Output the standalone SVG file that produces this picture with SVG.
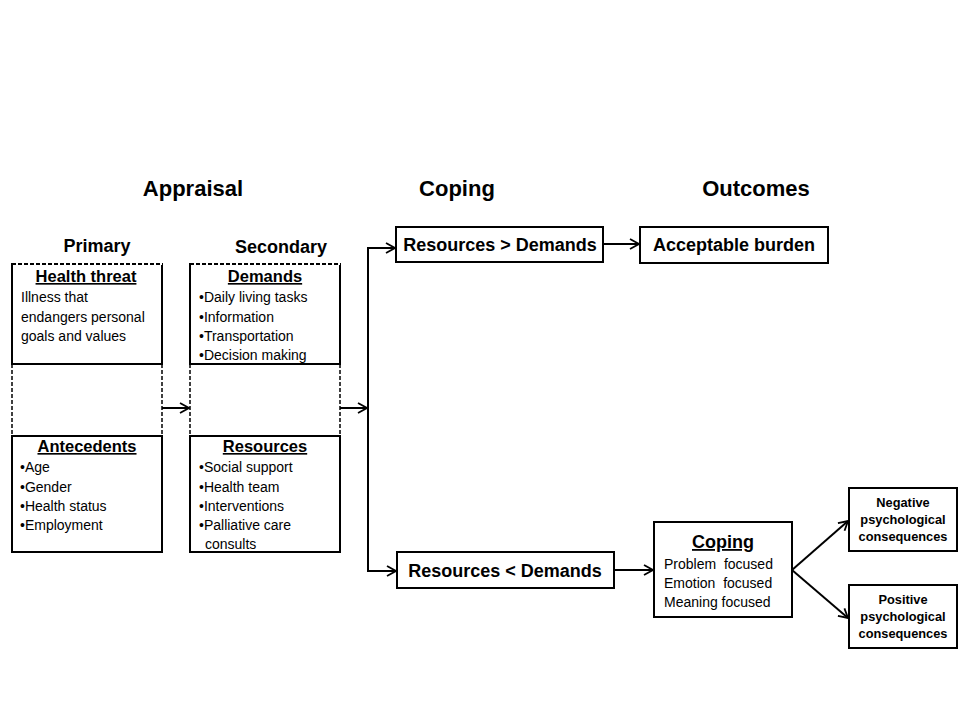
<svg xmlns="http://www.w3.org/2000/svg" width="960" height="720" viewBox="0 0 960 720">
<style>
text{font-family:"Liberation Sans",Arial,sans-serif;fill:#000}
.h1{font-size:22px;font-weight:bold;text-anchor:middle}
.h2{font-size:18px;font-weight:bold;text-anchor:middle}
.hd{font-size:16.5px;font-weight:bold;text-anchor:middle;text-decoration:underline}
.t{font-size:14px}
.sm{font-size:12.8px;font-weight:bold;text-anchor:middle}
.box{fill:#fff;stroke:#000;stroke-width:2}
.dash{fill:none;stroke:#000;stroke-width:1.5;stroke-dasharray:4 2}
.ln{fill:none;stroke:#000;stroke-width:2}
</style>
<defs>
<marker id="arr" viewBox="0 0 12 12" refX="11" refY="6" markerWidth="12" markerHeight="12" markerUnits="userSpaceOnUse" orient="auto">
<path d="M2,1 L11,6 L2,11" fill="none" stroke="#000" stroke-width="1.8"/>
</marker>
</defs>
<rect width="960" height="720" fill="#fff"/>
<g id="titles">
<text class="h1" x="193" y="196">Appraisal</text>
<text class="h1" x="457" y="196">Coping</text>
<text class="h1" x="756" y="196">Outcomes</text>
<text class="h2" x="97" y="252">Primary</text>
<text class="h2" x="281" y="253">Secondary</text>
</g>
<g id="primary">
<rect class="box" x="12" y="264" width="150" height="100"/>
<rect class="box" x="12" y="436" width="150" height="116"/>
<line class="dash" x1="12" y1="364" x2="12" y2="436"/>
<line class="dash" x1="162" y1="364" x2="162" y2="436"/>
<line x1="12" y1="264" x2="162" y2="264" stroke="#fff" stroke-width="2.2"/>
<line class="dash" x1="12" y1="264" x2="162" y2="264" style="stroke-width:2"/>
<text class="hd" x="86" y="282">Health threat</text>
<text class="t" x="21" y="302">Illness that</text>
<text class="t" x="21" y="322">endangers personal</text>
<text class="t" x="21" y="341">goals and values</text>
<text class="hd" x="87" y="452">Antecedents</text>
<text class="t" x="20" y="472">•Age</text>
<text class="t" x="20" y="492">•Gender</text>
<text class="t" x="20" y="511">•Health status</text>
<text class="t" x="20" y="530">•Employment</text>
</g>
<g id="secondary">
<rect class="box" x="190" y="264" width="150" height="100"/>
<rect class="box" x="190" y="436" width="150" height="116"/>
<line class="dash" x1="190" y1="364" x2="190" y2="436"/>
<line class="dash" x1="340" y1="364" x2="340" y2="436"/>
<line x1="190" y1="264" x2="340" y2="264" stroke="#fff" stroke-width="2.2"/>
<line class="dash" x1="190" y1="264" x2="340" y2="264" style="stroke-width:2"/>
<text class="hd" x="265" y="282">Demands</text>
<text class="t" x="199" y="302">•Daily living tasks</text>
<text class="t" x="199" y="322">•Information</text>
<text class="t" x="199" y="341">•Transportation</text>
<text class="t" x="199" y="360">•Decision making</text>
<text class="hd" x="265" y="452">Resources</text>
<text class="t" x="199" y="472">•Social support</text>
<text class="t" x="199" y="492">•Health team</text>
<text class="t" x="199" y="511">•Interventions</text>
<text class="t" x="199" y="530">•Palliative care</text>
<text class="t" x="205" y="549">consults</text>
</g>
<g id="res-gt">
<rect class="box" x="396" y="227" width="207" height="35"/>
<text class="h2" x="500" y="251">Resources &gt; Demands</text>
</g>
<g id="acceptable">
<rect class="box" x="640" y="227" width="188" height="36"/>
<text class="h2" x="734" y="251">Acceptable burden</text>
</g>
<g id="res-lt">
<rect class="box" x="397" y="552" width="217" height="36"/>
<text class="h2" x="505" y="577">Resources &lt; Demands</text>
</g>
<g id="coping">
<rect class="box" x="654" y="522" width="138" height="95"/>
<text class="hd" x="723" y="548" style="font-size:18px">Coping</text>
<text class="t" x="664" y="569" xml:space="preserve">Problem  focused</text>
<text class="t" x="664" y="588" xml:space="preserve">Emotion  focused</text>
<text class="t" x="664" y="607">Meaning focused</text>
</g>
<g id="negative">
<rect class="box" x="849" y="488" width="108" height="63"/>
<text class="sm" x="903" y="507">Negative</text>
<text class="sm" x="903" y="524">psychological</text>
<text class="sm" x="903" y="541">consequences</text>
</g>
<g id="positive">
<rect class="box" x="849" y="585" width="108" height="63"/>
<text class="sm" x="903" y="604">Positive</text>
<text class="sm" x="903" y="621">psychological</text>
<text class="sm" x="903" y="638">consequences</text>
</g>
<g id="connectors">
<line class="ln" x1="162" y1="408" x2="189" y2="408" marker-end="url(#arr)"/>
<line class="ln" x1="340" y1="408" x2="367" y2="408" marker-end="url(#arr)"/>
<line class="ln" x1="368" y1="248" x2="368" y2="571"/>
<line class="ln" x1="367" y1="248" x2="395" y2="248" marker-end="url(#arr)"/>
<line class="ln" x1="367" y1="571" x2="396" y2="571" marker-end="url(#arr)"/>
<line class="ln" x1="603" y1="244" x2="639" y2="244" marker-end="url(#arr)"/>
<line class="ln" x1="614" y1="570" x2="653" y2="570" marker-end="url(#arr)"/>
<line class="ln" x1="792" y1="570" x2="848" y2="521" marker-end="url(#arr)"/>
<line class="ln" x1="792" y1="570" x2="848" y2="618" marker-end="url(#arr)"/>
</g>
</svg>
